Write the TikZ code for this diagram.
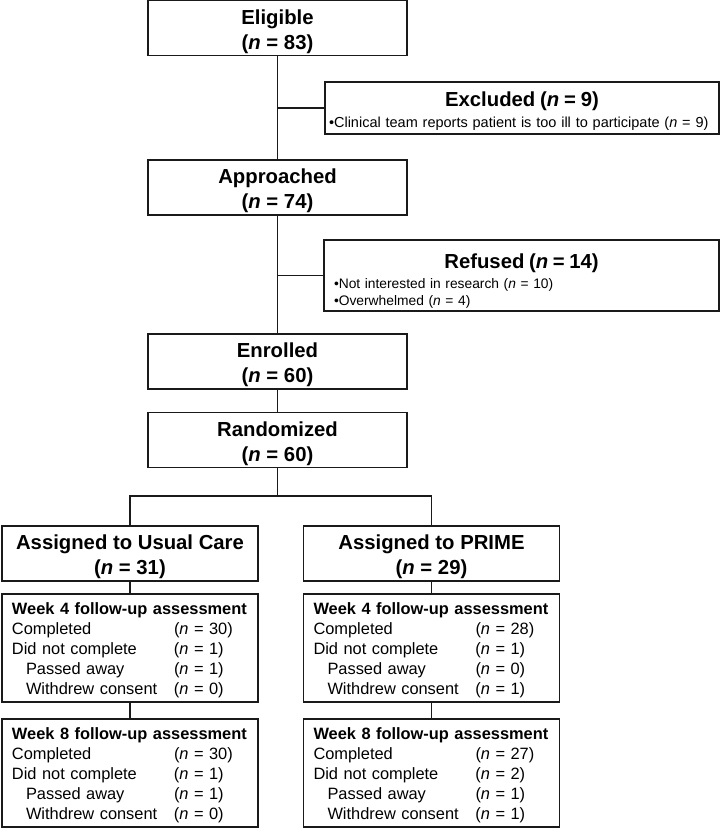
\documentclass[tikz,border=0pt]{standalone}
\usepackage{fontspec}
\setmainfont{Liberation Sans}
\usetikzlibrary{positioning,calc}
\definecolor{Ink}{HTML}{1A1A1A}
\newcommand{\nn}[1]{(\textit{n} = #1)}
\newcommand{\bnn}[1]{(\textbf{\textit{n}} = #1)}
\newcommand{\lift}[1]{\rule{0pt}{#1}}
\newcommand{\wrow}[2]{\makebox[162pt][l]{#1}\nn{#2}}
\newcommand{\wsub}[2]{\hspace*{14pt}\makebox[148pt][l]{#1}\nn{#2}}
\newcommand{\wtitle}[1]{\lift{15.5pt}\mbox{\textbf{Week #1 follow-up assessment}}}
\newcommand{\sidetitle}[2]{\makebox[\linewidth][c]{\lift{#1}\fontsize{20.3}{24}\selectfont\bfseries #2}}
\tikzset{
 box/.style={draw=Ink,line width=1.9pt,fill=white,align=center,font=\fontsize{20.3}{25}\selectfont\bfseries,minimum width=259pt,minimum height=55pt,inner sep=0pt},
 armbox/.style={box,minimum width=256pt},
 side/.style={draw=Ink,line width=1.9pt,fill=white,align=left,inner ysep=0pt},
 week/.style={draw=Ink,line width=1.9pt,fill=white,align=left,text width=236pt,inner xsep=10pt,inner ysep=0pt,minimum height=108pt,font=\fontsize{16.4}{20}\selectfont},
 link/.style={draw=Ink,line width=1.9pt}
}
\begin{document}
\begin{tikzpicture}[x=1pt,y=-1pt]
\useasboundingbox (0,0) rectangle (722,829);
% main column
\node[box] (elig) at (277.5,28) {\lift{22pt}Eligible\\\bnn{83}};
\node[box] (appr) at (277.5,187.5) {\lift{22pt}Approached\\\bnn{74}};
\node[box] (enrl) at (277.5,361.5) {\lift{22pt}Enrolled\\\bnn{60}};
\node[box] (rand) at (277.5,440) {\lift{22pt}Randomized\\\bnn{60}};
% exclusions
\node[side,minimum height=52pt,text width=386pt,inner xsep=4pt,font=\fontsize{14.5}{21}\selectfont] (excl) at (522,108)
 {\sidetitle{22pt}{Excluded \bnn{9}}\\
 •Clinical team reports patient is too ill to participate \nn{9}};
\node[side,minimum height=71pt,text width=375pt,inner xsep=10pt,font=\fontsize{13.8}{17}\selectfont] (refu) at (521.5,275.5)
 {\sidetitle{25pt}{Refused \bnn{14}}\\[3pt]
 •Not interested in research \nn{10}\\
 •Overwhelmed \nn{4}};
% arms
\node[armbox] (usual) at (130,553.5) {\lift{22pt}Assigned to Usual Care\\\bnn{31}};
\node[armbox] (prime) at (431.5,553.5) {\lift{22pt}Assigned to PRIME\\\bnn{29}};
\node[week] (uwk4) at (130,648) {\wtitle{4}\\
 \wrow{Completed}{30}\\ \wrow{Did not complete}{1}\\ \wsub{Passed away}{1}\\ \wsub{Withdrew consent}{0}};
\node[week] (uwk8) at (130,773) {\wtitle{8}\\
 \wrow{Completed}{30}\\ \wrow{Did not complete}{1}\\ \wsub{Passed away}{1}\\ \wsub{Withdrew consent}{0}};
\node[week] (pwk4) at (431.5,648) {\wtitle{4}\\
 \wrow{Completed}{28}\\ \wrow{Did not complete}{1}\\ \wsub{Passed away}{0}\\ \wsub{Withdrew consent}{1}};
\node[week] (pwk8) at (431.5,773) {\wtitle{8}\\
 \wrow{Completed}{27}\\ \wrow{Did not complete}{2}\\ \wsub{Passed away}{1}\\ \wsub{Withdrew consent}{1}};
% connectors
\coordinate (split) at (277.5,496);
\draw[link] (elig.south) -- (appr.north);
\draw[link] (elig.south |- excl.west) -- (excl.west);
\draw[link] (appr.south) -- (enrl.north);
\draw[link] (appr.south |- refu.west) -- (refu.west);
\draw[link] (enrl.south) -- (rand.north);
\draw[link] (rand.south) -- (split);
\draw[link] (usual.north) |- (split) -| (prime.north);
\draw[link] (usual.south) -- (uwk4.north);
\draw[link] (uwk4.south) -- (uwk8.north);
\draw[link] (prime.south) -- (pwk4.north);
\draw[link] (pwk4.south) -- (pwk8.north);
\end{tikzpicture}
\end{document}
